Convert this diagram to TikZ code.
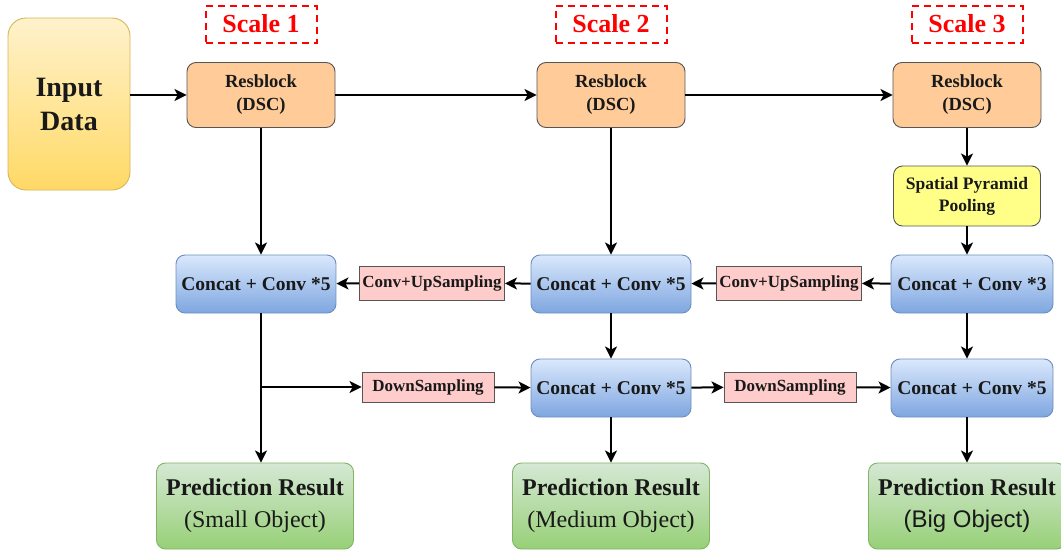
\documentclass[tikz,border=0pt]{standalone}
\usepackage{fontspec}
\setmainfont{Liberation Serif}
\newfontfamily\plainsans{Liberation Sans}
\usetikzlibrary{arrows.meta}
\definecolor{inputtop}{HTML}{FFF2CC}
\definecolor{inputbot}{HTML}{FFD966}
\definecolor{inputline}{HTML}{D6B656}
\definecolor{resfill}{HTML}{FFCC99}
\definecolor{sppfill}{HTML}{FFFF88}
\definecolor{sampfill}{HTML}{FFCCCC}
\definecolor{darkline}{HTML}{555555}
\definecolor{cattop}{HTML}{DAE8FC}
\definecolor{catbot}{HTML}{7EA6E0}
\definecolor{catline}{HTML}{6C8EBF}
\definecolor{predtop}{HTML}{D5E8D4}
\definecolor{predbot}{HTML}{97D077}
\definecolor{predline}{HTML}{82B366}
\begin{document}
\begin{tikzpicture}[x=1pt,y=-1pt,
	box/.style={draw, rounded corners=9pt, line width=0.9pt, align=center, inner sep=0pt, text=black!90},
	resbox/.style={box, draw=darkline, fill=resfill, minimum width=148pt, minimum height=65pt, font=\bfseries\fontsize{18.5}{23}\selectfont},
	catbox/.style={box, draw=catline, top color=cattop, bottom color=catbot, minimum width=160pt, minimum height=58pt, font=\bfseries\fontsize{19.5}{23}\selectfont},
	predbox/.style={box, draw=predline, top color=predtop, bottom color=predbot, minimum width=197pt, minimum height=86pt, font=\fontsize{24}{32}\selectfont},
	sampbox/.style={draw=darkline, fill=sampfill, line width=0.9pt, inner sep=0pt, text=black!90, font=\bfseries\fontsize{17}{20}\selectfont},
	scalebox/.style={draw=red, dash pattern=on 7pt off 5pt, line width=2pt, text=red, font=\bfseries\fontsize{26}{30}\selectfont, minimum width=111pt, minimum height=37pt},
	arr/.style={-{Stealth[length=12pt,width=12pt,inset=3pt]}, line width=2pt}
]
	\useasboundingbox (0,0) rectangle (1061,552);
	% input and the three scales
	\node[box, draw=inputline, top color=inputtop, bottom color=inputbot, rounded corners=18pt, minimum width=122pt, minimum height=172pt, font=\bfseries\fontsize{28}{34}\selectfont] (in) at (69,104) {Input\\Data};
	\foreach \n/\x in {1/261, 2/611, 3/967}
	{
		\node[scalebox] (scale\n) at (\x,24) {Scale \n};
		\node[resbox] (res\n) at (\x,95) {Resblock\\(DSC)};
	}
	\node[box, draw=darkline, fill=sppfill, minimum width=147pt, minimum height=60pt, font=\bfseries\fontsize{17.5}{22}\selectfont] (spp) at (967,196) {Spatial Pyramid\\Pooling};
	% neck
	\node[catbox] (cat1) at (256,284) {Concat + Conv *5};
	\node[catbox] (cat2) at (611,284) {Concat + Conv *5};
	\node[catbox, minimum width=162pt] (cat3) at (972,284) {Concat + Conv *3};
	\node[catbox] (dcat2) at (611,388) {Concat + Conv *5};
	\node[catbox, minimum width=162pt] (dcat3) at (972,388) {Concat + Conv *5};
	\node[sampbox, minimum width=145pt, minimum height=34pt] (up1) at (432,283) {Conv+UpSampling};
	\node[sampbox, minimum width=145pt, minimum height=34pt] (up2) at (789,283) {Conv+UpSampling};
	\node[sampbox, minimum width=132pt, minimum height=30pt] (down1) at (428,387) {DownSampling};
	\node[sampbox, minimum width=132pt, minimum height=30pt] (down2) at (790,387) {DownSampling};
	% outputs
	\node[predbox] (pred1) at (255,506) {\textbf{Prediction Result}\\(Small Object)};
	\node[predbox] (pred2) at (611,506) {\textbf{Prediction Result}\\(Medium Object)};
	\node[predbox] (pred3) at (967,506) {\textbf{Prediction Result}\\{\plainsans (Big Object)}};
	% arrows
	\draw[arr] (in.east |- res1.west) -- (res1);
	\draw[arr] (res1) -- (res2);
	\draw[arr] (res2) -- (res3);
	\draw[arr] (res1.south) -- (res1.south |- cat1.north);
	\draw[arr] (res2) -- (cat2);
	\draw[arr] (res3) -- (spp);
	\draw[arr] (spp.south) -- (spp.south |- cat3.north);
	\draw[arr] (cat3) -- (up2);
	\draw[arr] (up2) -- (cat2);
	\draw[arr] (cat2) -- (up1);
	\draw[arr] (up1) -- (cat1);
	\draw[arr] (res1.south |- cat1.south) -- (res1.south |- pred1.north);
	\draw[arr] (res1.south |- down1.west) -- (down1);
	\draw[arr] (down1) -- (dcat2);
	\draw[arr] (cat2) -- (dcat2);
	\draw[arr] (dcat2) -- (down2);
	\draw[arr] (down2) -- (dcat3);
	\draw[arr] (spp.south |- cat3.south) -- (spp.south |- dcat3.north);
	\draw[arr] (dcat2.south) -- (dcat2.south |- pred2.north);
	\draw[arr] (spp.south |- dcat3.south) -- (pred3);
\end{tikzpicture}
\end{document}
